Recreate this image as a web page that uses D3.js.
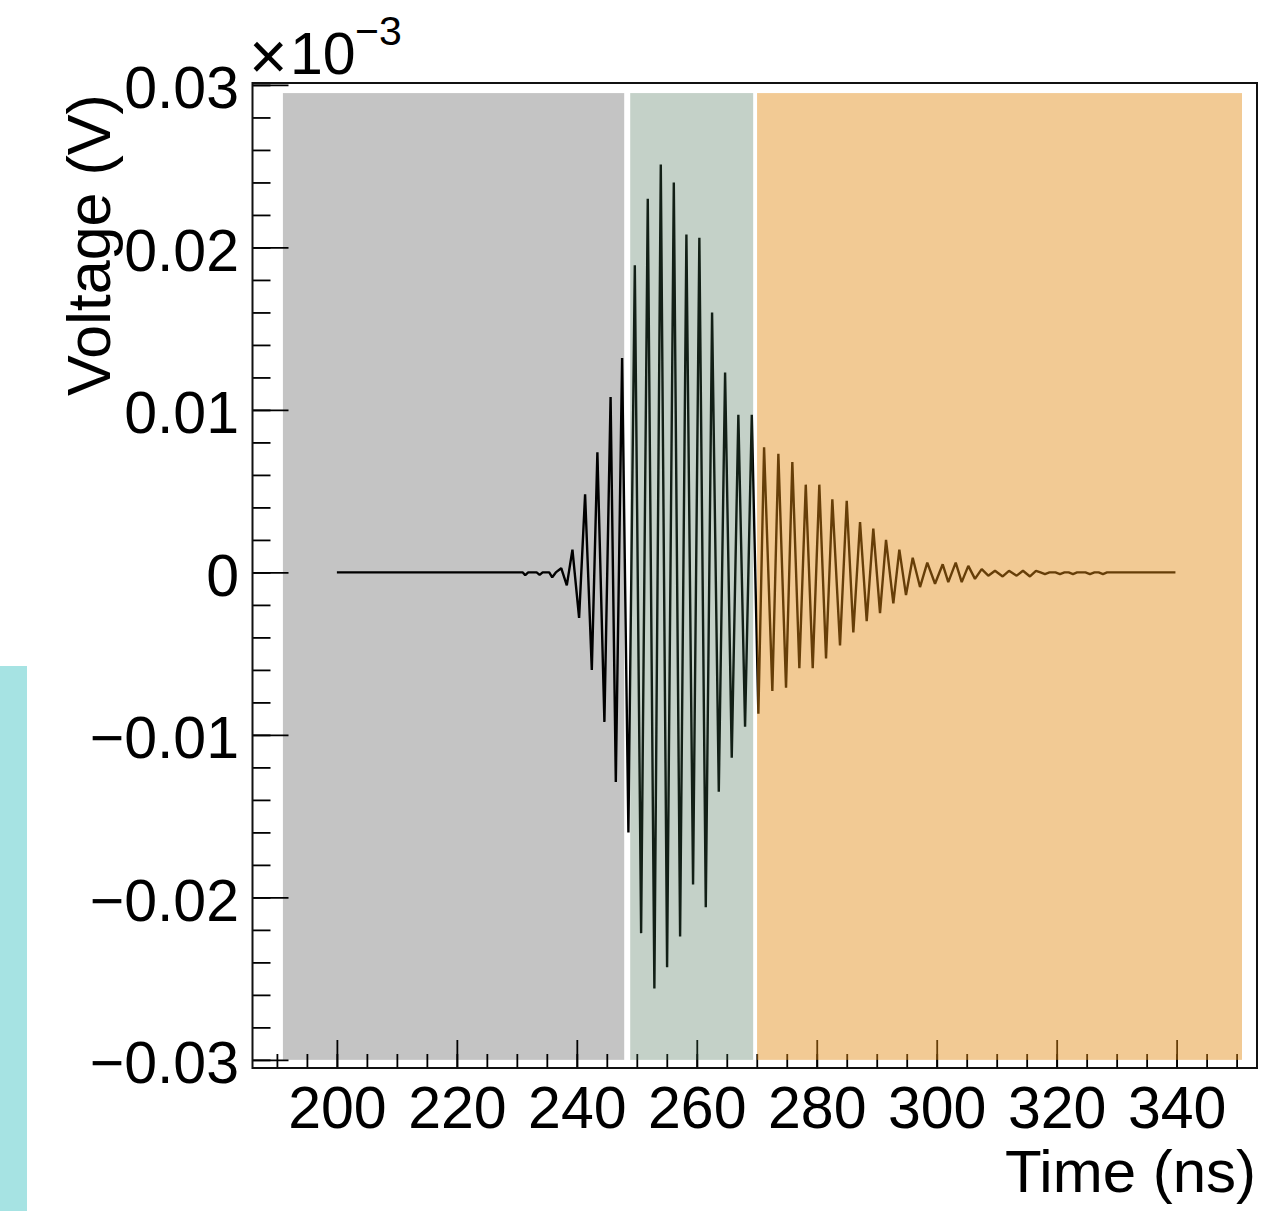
<!DOCTYPE html>
<html><head><meta charset="utf-8">
<script src="https://cdn.jsdelivr.net/npm/d3@7"></script>
<style>
body{margin:0;background:#fff}
svg{display:block}
text{font-family:"Liberation Sans",Arial,Helvetica,sans-serif}
</style>
</head><body>
<svg id="c" width="1266" height="1211"></svg>
<script>
// ---- data ----
const sampleTimes = [
  200.0, 231.0, 231.4, 231.9, 233.3, 233.8, 234.3, 235.4, 235.9, 236.5,
  237.4, 238.33, 239.27, 240.38, 241.38, 242.5, 243.43, 244.6, 245.63, 246.5,
  247.55, 248.6, 249.67, 250.72, 251.83, 252.93, 254.0, 255.05, 256.17, 257.22,
  258.27, 259.38, 260.43, 261.5, 262.55, 263.67, 264.72, 265.83, 266.93, 268.05,
  269.17, 270.27, 271.22, 272.6, 273.6, 274.88, 275.93, 277.1, 278.17, 279.33,
  280.43, 281.55, 282.6, 283.88, 285.0, 286.1, 287.22, 288.33, 289.43, 290.55,
  291.55, 292.77, 293.77, 294.88, 296.0, 297.22, 298.43, 299.72, 301.0, 301.93,
  303.17, 304.17, 305.27, 306.38, 307.5, 308.6, 309.72, 311.0, 312.05, 313.33,
  314.38, 315.55, 316.55, 317.3, 318.05, 318.8, 319.8, 320.55, 321.3, 322.0,
  322.72, 323.4, 324.8, 325.55, 326.3, 327.0, 327.72, 328.4, 339.8
];
const sampleVolts = [
  0, 0, -0.00017, 0, 0, -0.00015, 0, 0, -0.0003, 0,
  0.00026, -0.0008, 0.0014, -0.0028, 0.0048, -0.0060, 0.0074, -0.0092, 0.0108, -0.0129,
  0.0132, -0.0160, 0.0189, -0.0222, 0.0230, -0.0256, 0.0251, -0.0243, 0.0240, -0.0224,
  0.0208, -0.0192, 0.0206, -0.0206, 0.0160, -0.0135, 0.0123, -0.0114, 0.0097, -0.0095,
  0.0097, -0.0087, 0.0077, -0.0073, 0.0073, -0.0071, 0.0068, -0.0059, 0.0054, -0.0059,
  0.0054, -0.0053, 0.0045, -0.0045, 0.0044, -0.0037, 0.0031, -0.0030, 0.0027, -0.0025,
  0.0020, -0.0019, 0.0014, -0.0014, 0.0009, -0.0009, 0.0006, -0.0007, 0.0005, -0.0006,
  0.0006, -0.0006, 0.0004, -0.0004, 0.0002, -0.0002, 0.0001, -0.00025, 0.0001, -0.0002,
  0.0001, -0.00025, 0.0001, 0, -0.0001, 0, 0, -0.0001, 0, 0,
  -0.0001, 0, 0, -0.0001, 0, 0, -0.0001, 0, 0
];

const xMajorTicks = [200, 220, 240, 260, 280, 300, 320, 340];
const xTickLabels = ["200", "220", "240", "260", "280", "300", "320", "340"];
const xMinorTicks = [190, 195, 200, 205, 210, 215, 220, 225, 230, 235, 240, 245, 250, 255, 260, 265,
  270, 275, 280, 285, 290, 295, 300, 305, 310, 315, 320, 325, 330, 335, 340, 345, 350];

const yMajorTicks = [-0.03, -0.02, -0.01, 0, 0.01, 0.02, 0.03];
const yTickLabels = ["\u22120.03", "\u22120.02", "\u22120.01", "0", "0.01", "0.02", "0.03"];
const yMinorTicks = [-0.03, -0.028, -0.026, -0.024, -0.022, -0.02, -0.018, -0.016, -0.014, -0.012,
  -0.01, -0.008, -0.006, -0.004, -0.002, 0, 0.002, 0.004, 0.006, 0.008, 0.01, 0.012, 0.014,
  0.016, 0.018, 0.02, 0.022, 0.024, 0.026, 0.028, 0.03];

const regionStarts = [191.0, 248.9, 270.05];
const regionEnds = [247.9, 269.4, 350.9];
const regionTop = 0.0295;
const regionBottom = -0.03;

const xDomain = [185.93, 353.4];
const yDomain = [-0.0305, 0.03012];

// ---- layout ----
const svg = d3.select("#c");
const L = 252.5, R = 1257, T = 83, B = 1068;
const x = d3.scaleLinear().domain(xDomain).range([L, R]);
const y = d3.scaleLinear().domain(yDomain).range([B, T]);
const FS = 59;

// cyan strip at the left edge
svg.append("rect").attr("x", 0).attr("y", 666).attr("width", 27).attr("height", 545).attr("fill", "#a6e3e3");

// waveform
const line = d3.line().x((d, i) => x(sampleTimes[i])).y(d => y(d));
svg.append("path").datum(sampleVolts)
  .attr("d", line).attr("fill", "none").attr("stroke", "#000")
  .attr("stroke-width", 2.4).attr("stroke-linejoin", "bevel");

// axes
function styleAxis(g) {
  g.select(".domain").remove();
  g.selectAll(".tick line").attr("stroke", "#000").attr("stroke-width", 1.8);
}
svg.append("g").attr("transform", `translate(0,${B})`)
  .call(d3.axisBottom(x).tickValues(xMinorTicks).tickSize(-14).tickFormat(""))
  .call(styleAxis);
const gx = svg.append("g").attr("transform", `translate(0,${B})`)
  .call(d3.axisBottom(x).tickValues(xMajorTicks).tickSize(-28).tickFormat((d, i) => xTickLabels[i]))
  .call(styleAxis);
gx.attr("font-size", FS).attr("font-family", null);
gx.selectAll("text").attr("y", 1128 - B).attr("dy", null).attr("fill", "#000");

svg.append("g").attr("transform", `translate(${L},0)`)
  .call(d3.axisLeft(y).tickValues(yMinorTicks).tickSize(-18).tickFormat(""))
  .call(styleAxis);
const gy = svg.append("g").attr("transform", `translate(${L},0)`)
  .call(d3.axisLeft(y).tickValues(yMajorTicks).tickSize(-36).tickFormat((d, i) => yTickLabels[i]))
  .call(styleAxis);
gy.attr("font-size", FS).attr("font-family", null);
gy.selectAll("text").attr("x", 239 - L).attr("dy", null).attr("y", 23).attr("fill", "#000");

// translucent region overlays (drawn over the trace)
const regionFills = ["rgba(0,0,0,0.23)", "rgba(58,102,72,0.30)", "rgba(227,138,18,0.45)"];
svg.append("g").selectAll("rect").data(regionStarts).join("rect")
  .attr("x", (d) => x(d))
  .attr("width", (d, i) => x(regionEnds[i]) - x(d))
  .attr("y", y(regionTop))
  .attr("height", y(regionBottom) - y(regionTop))
  .attr("fill", (d, i) => regionFills[i]);

// frame
svg.append("rect").attr("x", L).attr("y", T).attr("width", R - L).attr("height", B - T)
  .attr("fill", "none").attr("stroke", "#111").attr("stroke-width", 2);

// titles
svg.append("text").attr("x", 1256).attr("y", 1192).attr("text-anchor", "end")
  .attr("font-size", 60).text("Time (ns)");
svg.append("text").attr("transform", "translate(110,396) rotate(-90)")
  .attr("text-anchor", "start").attr("font-size", 61).text("Voltage (V)");

// exponent label
const ex = svg.append("text").attr("y", 74).attr("font-size", 59);
ex.append("tspan").attr("x", 249).attr("y", 79).attr("font-size", 66).attr("font-weight", 300).text("\u00d7");
ex.append("tspan").attr("x", 290).attr("y", 74).text("10");
ex.append("tspan").attr("x", 355).attr("y", 45).attr("font-size", 41).text("\u22123");
</script>
</body></html>
